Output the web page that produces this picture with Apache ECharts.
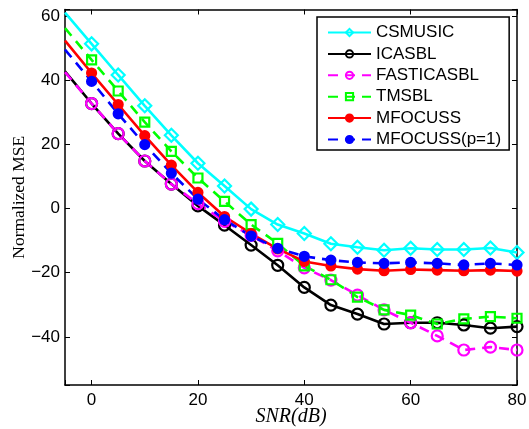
<!DOCTYPE html>
<html>
<head>
<meta charset="utf-8">
<script src="https://cdn.jsdelivr.net/npm/echarts@6/dist/echarts.min.js"></script>
<style>html,body{margin:0;padding:0;background:#fff}#c{width:529px;height:429px}</style>
</head>
<body>
<div id="c"></div>
<script>
const snr = [-5, 0, 5, 10, 15, 20, 25, 30, 35, 40, 45, 50, 55, 60, 65, 70, 75, 80];
const csmusic    = [61.0, 51.3, 41.6, 32.0, 22.8, 14.1, 7.0, -0.2, -5.0, -7.8, -11.0, -12.1, -13.0, -12.4, -12.8, -12.8, -12.3, -13.7];
const icasbl     = [42.7, 32.7, 23.3, 14.8, 7.6, 0.8, -5.2, -11.4, -17.7, -24.6, -30.1, -32.9, -36.0, -35.6, -35.6, -36.3, -37.3, -36.8];
const fasticasbl = [42.5, 32.7, 23.3, 14.8, 7.6, 1.5, -4.0, -8.4, -13.2, -18.5, -22.3, -27.0, -31.6, -35.6, -39.7, -44.1, -43.2, -44.1];
const tmsbl      = [56.2, 46.3, 36.6, 26.9, 17.8, 9.5, 2.2, -5.0, -10.9, -17.9, -22.2, -27.6, -31.6, -33.2, -36.0, -34.4, -33.7, -34.2];
const mfocuss    = [52.3, 42.2, 32.4, 22.7, 13.5, 5.0, -2.5, -7.8, -12.6, -16.5, -17.9, -18.9, -19.4, -19.0, -19.2, -19.4, -19.2, -19.5];
const mfocussP1  = [49.5, 39.6, 29.5, 19.9, 11.0, 2.9, -3.5, -8.6, -12.4, -14.9, -16.1, -16.8, -17.1, -16.8, -17.1, -17.6, -17.1, -17.6];
const seriesNames = ['CSMUSIC', 'ICASBL', 'FASTICASBL', 'TMSBL', 'MFOCUSS', 'MFOCUSS(p=1)'];
const xTicks = [0, 20, 40, 60, 80];
const yTicks = [-40, -20, 0, 20, 40, 60];

function pairs(arr) {
  return snr.map((x, i) => i === 0 ? { value: [x, arr[i]], symbol: 'none' } : [x, arr[i]]);
}
function fmt(ticks) {
  return v => ticks.indexOf(Math.round(v)) >= 0 && Math.abs(v - Math.round(v)) < 1e-6 ? String(Math.round(v)).replace('-', '\u2212') : '';
}
const styles = [
  { c: '#00FFFF', dash: 'solid', sym: 'diamond', size: 13, fill: false },
  { c: '#000000', dash: 'solid', sym: 'circle', size: 11, fill: false },
  { c: '#FF00FF', dash: [10, 7], sym: 'circle', size: 11, fill: false },
  { c: '#00FF00', dash: [10, 7], sym: 'rect', size: 9, fill: false },
  { c: '#FF0000', dash: 'solid', sym: 'circle', size: 9, fill: true },
  { c: '#0000FF', dash: [10, 7], sym: 'circle', size: 9, fill: true }
];
const allData = [csmusic, icasbl, fasticasbl, tmsbl, mfocuss, mfocussP1];

const series = allData.map((d, i) => {
  const s = styles[i];
  return {
    name: seriesNames[i],
    type: 'line',
    xAxisIndex: 0, yAxisIndex: 0,
    data: pairs(d),
    symbol: s.sym,
    symbolSize: s.size,
    showAllSymbol: true,
    lineStyle: { color: s.c, width: 2.6, type: s.dash },
    itemStyle: { color: s.fill ? s.c : 'rgba(255,255,255,0)', borderColor: s.c, borderWidth: 2.2 },
    emphasis: { disabled: true },
    animation: false
  };
});

const axisCommon = {
  axisLine: { show: true, onZero: false, lineStyle: { color: '#000', width: 1.5 } },
  axisTick: { show: true, inside: true, length: 5, lineStyle: { color: '#000', width: 1 } },
  splitLine: { show: false }
};

const chart = echarts.init(document.getElementById('c'), null, { renderer: 'canvas' });
chart.setOption({
  animation: false,
  backgroundColor: '#fff',
  grid: { left: 65, right: 12, top: 9.5, bottom: 44, containLabel: false, outerBoundsMode: 'none' },
  xAxis: [
    Object.assign({
      type: 'value', min: -5, max: 80, splitNumber: 5, position: 'bottom',
      name: 'SNR(dB)', nameLocation: 'middle', nameGap: 22, nameMoveOverlap: false,
      nameTextStyle: { fontFamily: 'Liberation Serif', fontStyle: 'italic', fontSize: 20, color: '#000' },
      axisLabel: { formatter: fmt(xTicks), fontFamily: 'Liberation Sans', fontSize: 17, color: '#000', margin: 7, showMinLabel: true, showMaxLabel: true }
    }, axisCommon),
    Object.assign({
      type: 'value', min: -5, max: 80, splitNumber: 5, position: 'top',
      axisLabel: { show: false }
    }, axisCommon)
  ],
  yAxis: [
    Object.assign({
      type: 'value', min: -55, max: 62, splitNumber: 6, position: 'left',
      name: 'Normalized MSE', nameLocation: 'middle', nameGap: 37, nameRotate: 90, nameMoveOverlap: false,
      nameTextStyle: { fontFamily: 'Liberation Serif', fontSize: 17.5, color: '#000' },
      axisLabel: { formatter: fmt(yTicks), fontFamily: 'Liberation Sans', fontSize: 17, color: '#000', margin: 5 }
    }, axisCommon),
    Object.assign({
      type: 'value', min: -55, max: 62, splitNumber: 6, position: 'right',
      axisLabel: { show: false }
    }, axisCommon)
  ],
  legend: {
    orient: 'vertical',
    left: 317, top: 17,
    width: 192,
    padding: [7, 8, 2, 10],
    itemWidth: 43, itemHeight: 9, itemGap: 4.4,
    backgroundColor: '#fff',
    borderColor: '#000', borderWidth: 1.5, borderRadius: 0,
    textStyle: { fontFamily: 'Liberation Sans', fontSize: 17, color: '#000', padding: [0, 0, 0, 0] },
    data: seriesNames,
    selectedMode: false
  },
  series: series
});
</script>
</body>
</html>
